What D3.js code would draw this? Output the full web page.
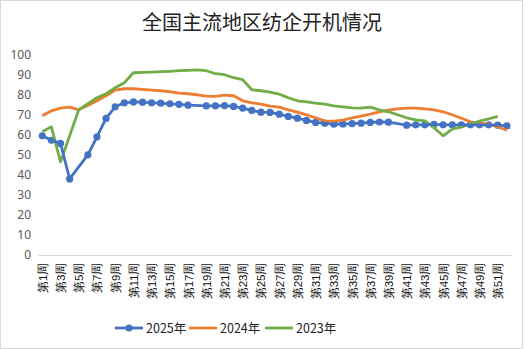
<!DOCTYPE html>
<html>
<head>
<meta charset="utf-8">
<script src="https://cdn.jsdelivr.net/npm/d3@7"></script>
<style>
  html, body { margin: 0; padding: 0; background: #fff; }
  svg { display: block; font-family: "Noto Sans CJK SC", "Noto Sans", sans-serif; }
</style>
</head>
<body>
<svg id="chart" width="527" height="350"></svg>
<script>
// Weekly operating rate of spinning mills in major regions (%)
const weeks = ["第1周","第2周","第3周","第4周","第5周","第6周","第7周","第8周","第9周","第10周",
  "第11周","第12周","第13周","第14周","第15周","第16周","第17周","第18周","第19周","第20周",
  "第21周","第22周","第23周","第24周","第25周","第26周","第27周","第28周","第29周","第30周",
  "第31周","第32周","第33周","第34周","第35周","第36周","第37周","第38周","第39周","第40周",
  "第41周","第42周","第43周","第44周","第45周","第46周","第47周","第48周","第49周","第50周",
  "第51周","第52周"];

const y2025 = [59.5,57.3,55.7,38,null,50,59,68.2,74,76,
  76.4,76.3,76,75.8,75.5,75.2,74.8,null,74.5,74.5,
  74.6,74.2,73.3,72.2,71.3,71.2,70.3,69.2,68.3,67.2,
  66.2,65.8,65.3,65.4,65.6,65.8,66.2,66.4,66.3,null,
  64.8,65,65,65.2,65,65,65,65,65,65,
  64.8,64.5];

const y2024 = [69.5,72,73.3,73.8,72.5,74.7,77,79.5,82.3,83,
  83,82.7,82.3,82,81.5,80.8,80.5,80,79.3,79.2,
  79.8,79.5,77,76,75.3,74.3,73.8,72.5,71.3,70,
  68.5,67,66.8,67.3,68.5,69.3,70.3,71.5,72.3,73,
  73.3,73.3,73,72.5,71.5,70,68.3,66.5,65.8,65.3,
  64,62.3];

const y2023 = [61.5,64,46.5,null,72.5,75.5,78.5,80.5,83.5,86,
  91,91.2,91.3,91.5,91.7,92,92.2,92.4,92,90.5,
  90,88.5,87.5,82.5,82,81.3,80.3,78.5,77,76.5,
  75.8,75.3,74.5,74,73.5,73.3,73.8,72.5,71.5,70,
  68.5,67.5,67,63.5,59.5,62.8,64,65.3,66.8,68,
  69.2,null];

const seriesNames = ["2025年","2024年","2023年"];
const yTicks = [0,10,20,30,40,50,60,70,80,90,100];
const title = "全国主流地区纺企开机情况";

const colors = ["#4472C4","#ED7D31","#70AD47"];
const series = [y2025, y2024, y2023];

const svg = d3.select("#chart");

// outer chart border
svg.append("rect")
  .attr("x", 0.5).attr("y", 0.5)
  .attr("width", 522).attr("height", 348)
  .attr("fill", "#fff").attr("stroke", "#d9d9d9");

svg.append("text")
  .attr("x", 262).attr("y", 30)
  .attr("text-anchor", "middle")
  .attr("font-size", 20)
  .attr("fill", "#222")
  .text(title);

const x = d3.scalePoint().domain(weeks).range([42.3, 506.9]);
const y = d3.scaleLinear().domain([0, 100]).range([255, 54.7]);

// y axis labels (no axis line)
const yAxis = svg.append("g").attr("transform", "translate(33,0)")
  .call(d3.axisLeft(y).tickValues(yTicks).tickSize(0).tickPadding(2));
yAxis.select(".domain").remove();
yAxis.selectAll("text")
  .attr("font-size", 12).attr("fill", "#595959")
  .attr("font-family", "'Noto Sans', sans-serif");

// x axis with every other week label, rotated
const xAxis = svg.append("g").attr("transform", "translate(0,255.5)")
  .call(d3.axisBottom(x)
    .tickValues(weeks.filter((d, i) => i % 2 === 0))
    .tickSize(0));
xAxis.select(".domain")
  .attr("d", "M37.8,0H511.5")
  .attr("stroke", "#d9d9d9").attr("stroke-width", 1);
xAxis.selectAll("text")
  .attr("font-size", 11.5).attr("fill", "#111")
  .attr("text-anchor", "end")
  .attr("transform", "rotate(-90)")
  .attr("x", -7).attr("y", 0).attr("dy", "0.35em");

// lines, connecting across missing weeks
const line = d3.line()
  .x(d => x(d.w))
  .y(d => y(d.v));

series.forEach((vals, si) => {
  const pts = weeks.map((w, i) => ({ w, v: vals[i] })).filter(d => d.v != null);
  svg.append("path")
    .datum(pts)
    .attr("fill", "none")
    .attr("stroke", colors[si])
    .attr("stroke-width", 2.8)
    .attr("stroke-linejoin", "round")
    .attr("d", line);
  if (si === 0) {
    svg.append("g").selectAll("circle")
      .data(pts).join("circle")
      .attr("cx", d => x(d.w)).attr("cy", d => y(d.v))
      .attr("r", 3.6)
      .attr("fill", colors[0]);
  }
});

// keep the 2025 line and its markers above the other years
svg.selectAll("path").filter(function() { return d3.select(this).attr("stroke") === colors[0]; }).raise();
svg.selectAll("circle").raise();

// legend
const legend = svg.append("g").attr("transform", "translate(115,328)");
const legendX = [0, 74, 150];
seriesNames.forEach((name, i) => {
  const g = legend.append("g").attr("transform", `translate(${legendX[i]},0)`);
  g.append("line").attr("x1", 0).attr("x2", 28).attr("y1", 0).attr("y2", 0)
    .attr("stroke", colors[i]).attr("stroke-width", 2.8);
  if (i === 0) g.append("circle").attr("cx", 14).attr("cy", 0).attr("r", 3.6).attr("fill", colors[0]);
  g.append("text").attr("x", 31).attr("y", 0).attr("dy", "0.36em")
    .attr("font-size", 12.5).attr("fill", "#222").text(name);
});
</script>
</body>
</html>
